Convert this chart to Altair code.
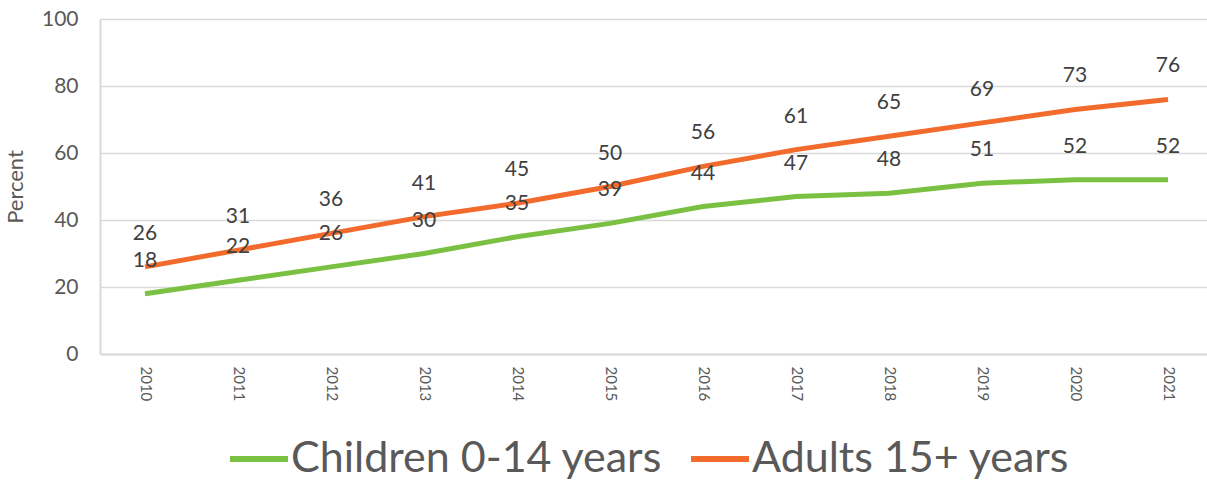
import altair as alt
import pandas as pd

years = [str(y) for y in range(2010, 2022)]
children = [18, 22, 26, 30, 35, 39, 44, 47, 48, 51, 52, 52]
adults = [26, 31, 36, 41, 45, 50, 56, 61, 65, 69, 73, 76]
series_names = ["Children 0-14 years", "Adults 15+ years"]
colors = ["#7AC143", "#F26B2C"]

rows = []
for y, c, a in zip(years, children, adults):
    rows.append({"year": y, "series": series_names[0], "value": c})
    rows.append({"year": y, "series": series_names[1], "value": a})
df = pd.DataFrame(rows)

font = "Lato"

x = alt.X("year:O", scale=alt.Scale(type="point", padding=0.4516, align=0.536),
          axis=alt.Axis(title=None, labelAngle=90, labelFontSize=15, labelColor="#595959",
                        labelFont=font, ticks=False, domainColor="#D9D9D9", domainWidth=2,
                        labelPadding=12, labelAlign="left", labelBaseline="middle"))
y = alt.Y("value:Q", scale=alt.Scale(domain=[0, 100]),
          axis=alt.Axis(title="Percent", values=[0, 20, 40, 60, 80, 100], labelFontSize=21,
                        labelColor="#595959", labelFont=font, ticks=False, domainColor="#D9D9D9",
                        domainWidth=2, gridColor="#D9D9D9", gridWidth=1.5, labelPadding=22,
                        titleFontSize=22, titleColor="#595959", titleFont=font,
                        titleFontWeight="normal", titlePadding=14))
color = alt.Color("series:N", scale=alt.Scale(domain=series_names, range=colors),
                  legend=alt.Legend(title=None, orient="none", direction="horizontal",
                                    legendX=127, legendY=408, padding=0, symbolType="stroke",
                                    symbolSize=3364, symbolStrokeWidth=6, labelFontSize=43,
                                    labelFont=font, labelColor="#595959", labelOffset=0,
                                    columnPadding=16, labelLimit=700))

lines = alt.Chart(df).mark_line(strokeWidth=5).encode(x=x, y=y, color=color)
labels = alt.Chart(df).mark_text(dy=-33, fontSize=21, font=font, color="#404040").encode(
    x=x, y=y, text="value:Q")

chart = (lines + labels).properties(
    width=1107, height=335,
    autosize=alt.AutoSizeParams(type="none"),
    padding={"left": 100, "top": 19, "right": 0, "bottom": 128},
).configure_view(stroke=None).configure(background="white")

chart.save("out.html", embed_options={"renderer": "svg", "actions": False})
